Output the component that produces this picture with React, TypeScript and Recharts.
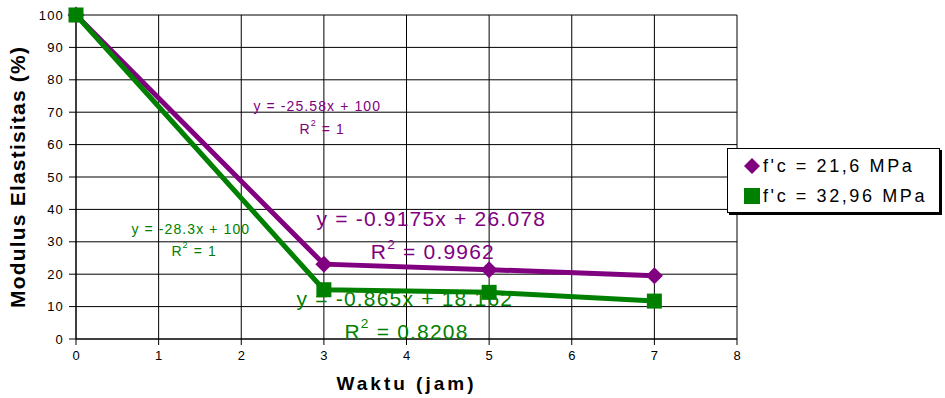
import { LineChart, Line, XAxis, YAxis, CartesianGrid, Label, ReferenceDot } from 'recharts';

const hours = [0, 3, 5, 7];
const fc216 = [100, 23.1, 21.4, 19.5];
const fc3296 = [100, 15.2, 14.4, 11.7];
const xTicks = [0, 1, 2, 3, 4, 5, 6, 7, 8];
const yTicks = [0, 10, 20, 30, 40, 50, 60, 70, 80, 90, 100];

const PURPLE = '#800080';
const GREEN = '#008000';
const FONT = '"Liberation Sans", Arial, sans-serif';

const data = hours.map((h, i) => ({ x: h, a: fc216[i], b: fc3296[i] }));

// trendline annotations: [x, y, text before superscript, text after, size, colour]
const notes: [number, number, string, string, number, string][] = [
    [2.92, 71.5, 'y = -25.58x + 100', '', 14, PURPLE],
    [2.98, 64.5, 'R', ' = 1', 14, PURPLE],
    [1.39, 33.5, 'y = -28.3x + 100', '', 14, GREEN],
    [1.43, 27, 'R', ' = 1', 14, GREEN],
    [4.3, 36.5, 'y = -0.9175x + 26.078', '', 21, PURPLE],
    [4.32, 26.5, 'R', ' = 0.9962', 21, PURPLE],
    [3.98, 12, 'y = -0.865x + 18.162', '', 21, GREEN],
    [4.0, 2, 'R', ' = 0.8208', 21, GREEN],
];

const Diamond = (props: any) => {
    const { cx, cy } = props;
    const r = 8.5;
    return <path d={`M${cx},${cy - r}L${cx + r},${cy}L${cx},${cy + r}L${cx - r},${cy}Z`} fill={PURPLE} />;
};

const Square = (props: any) => {
    const { cx, cy } = props;
    return <rect x={cx - 7.5} y={cy - 7.5} width={15} height={15} fill={GREEN} />;
};

const NoteLabel = (note: [number, number, string, string, number, string]) => (props: any) => {
    const { viewBox } = props;
    const [, , main, rest, size, color] = note;
    const cx = viewBox.x + (viewBox.width || 0) / 2;
    const cy = viewBox.y + (viewBox.height || 0) / 2;
    const spacing = size > 16 ? 1.2 : 1.1;
    return (
        <text x={cx} y={cy} textAnchor="middle" dominantBaseline="middle" fill={color} fontSize={size} fontFamily={FONT} letterSpacing={spacing}>
            {rest ? (
                <>
                    <tspan>{main}</tspan>
                    <tspan fontSize={size * 0.65} dy={-size * 0.4}>2</tspan>
                    <tspan dy={size * 0.4}>{rest}</tspan>
                </>
            ) : (
                main
            )}
        </text>
    );
};

const App = () => {
    return (
        <div style={{ position: 'absolute', left: 0, top: 0, width: 945, height: 398, background: '#fff', fontFamily: FONT }}>
            <LineChart width={945} height={398} data={data} margin={{ top: 15, right: 208, bottom: 0, left: 0 }}>
                <CartesianGrid stroke="#000" strokeWidth={1} />
                <XAxis
                    dataKey="x"
                    type="number"
                    domain={[0, 8]}
                    ticks={xTicks}
                    height={59}
                    stroke="#000"
                    tickSize={6}
                    tickMargin={6}
                    tick={{ fill: '#000', fontSize: 13, fontFamily: FONT }}
                >
                    <Label value="Waktu (jam)" position="insideBottom" offset={8} style={{ fill: '#000', fontSize: 19, fontWeight: 'bold', letterSpacing: 3, fontFamily: FONT }} />
                </XAxis>
                <YAxis
                    type="number"
                    domain={[0, 100]}
                    ticks={yTicks}
                    width={76}
                    stroke="#000"
                    tickSize={7}
                    tickMargin={5}
                    tick={{ fill: '#000', fontSize: 13, fontFamily: FONT, letterSpacing: 1.2 }}
                >
                    <Label value="Modulus Elastisitas (%)" angle={-90} position="insideLeft" offset={18} style={{ textAnchor: 'middle', fill: '#000', fontSize: 21, fontWeight: 'bold', letterSpacing: 1.2, fontFamily: FONT }} />
                </YAxis>
                <Line dataKey="a" stroke={PURPLE} strokeWidth={5} dot={<Diamond />} isAnimationActive={false} />
                <Line dataKey="b" stroke={GREEN} strokeWidth={5} dot={<Square />} isAnimationActive={false} />
                {notes.map((n, i) => (
                    <ReferenceDot key={i} x={n[0]} y={n[1]} r={0} stroke="none" fill="none" ifOverflow="visible" label={NoteLabel(n)} />
                ))}
            </LineChart>
            <div
                style={{
                    position: 'absolute',
                    left: 727,
                    top: 148,
                    width: 211,
                    height: 63,
                    border: '1px solid #000',
                    boxShadow: '2px 2px 0 #000',
                    background: '#fff',
                    fontSize: 18,
                    letterSpacing: 2.6,
                    color: '#000',
                    whiteSpace: 'nowrap',
                }}
            >
                <div style={{ display: 'flex', alignItems: 'center', height: 30, marginTop: 2 }}>
                    <svg width={18} height={18} style={{ marginLeft: 15, marginRight: 2 }}>
                        <path d="M9,1L17,9L9,17L1,9Z" fill={PURPLE} />
                    </svg>
                    <span>f'c = 21,6 MPa</span>
                </div>
                <div style={{ display: 'flex', alignItems: 'center', height: 30 }}>
                    <svg width={18} height={18} style={{ marginLeft: 15, marginRight: 2 }}>
                        <rect x={1} y={1} width={16} height={16} fill={GREEN} />
                    </svg>
                    <span>f'c = 32,96 MPa</span>
                </div>
            </div>
        </div>
    );
};

export default App;
